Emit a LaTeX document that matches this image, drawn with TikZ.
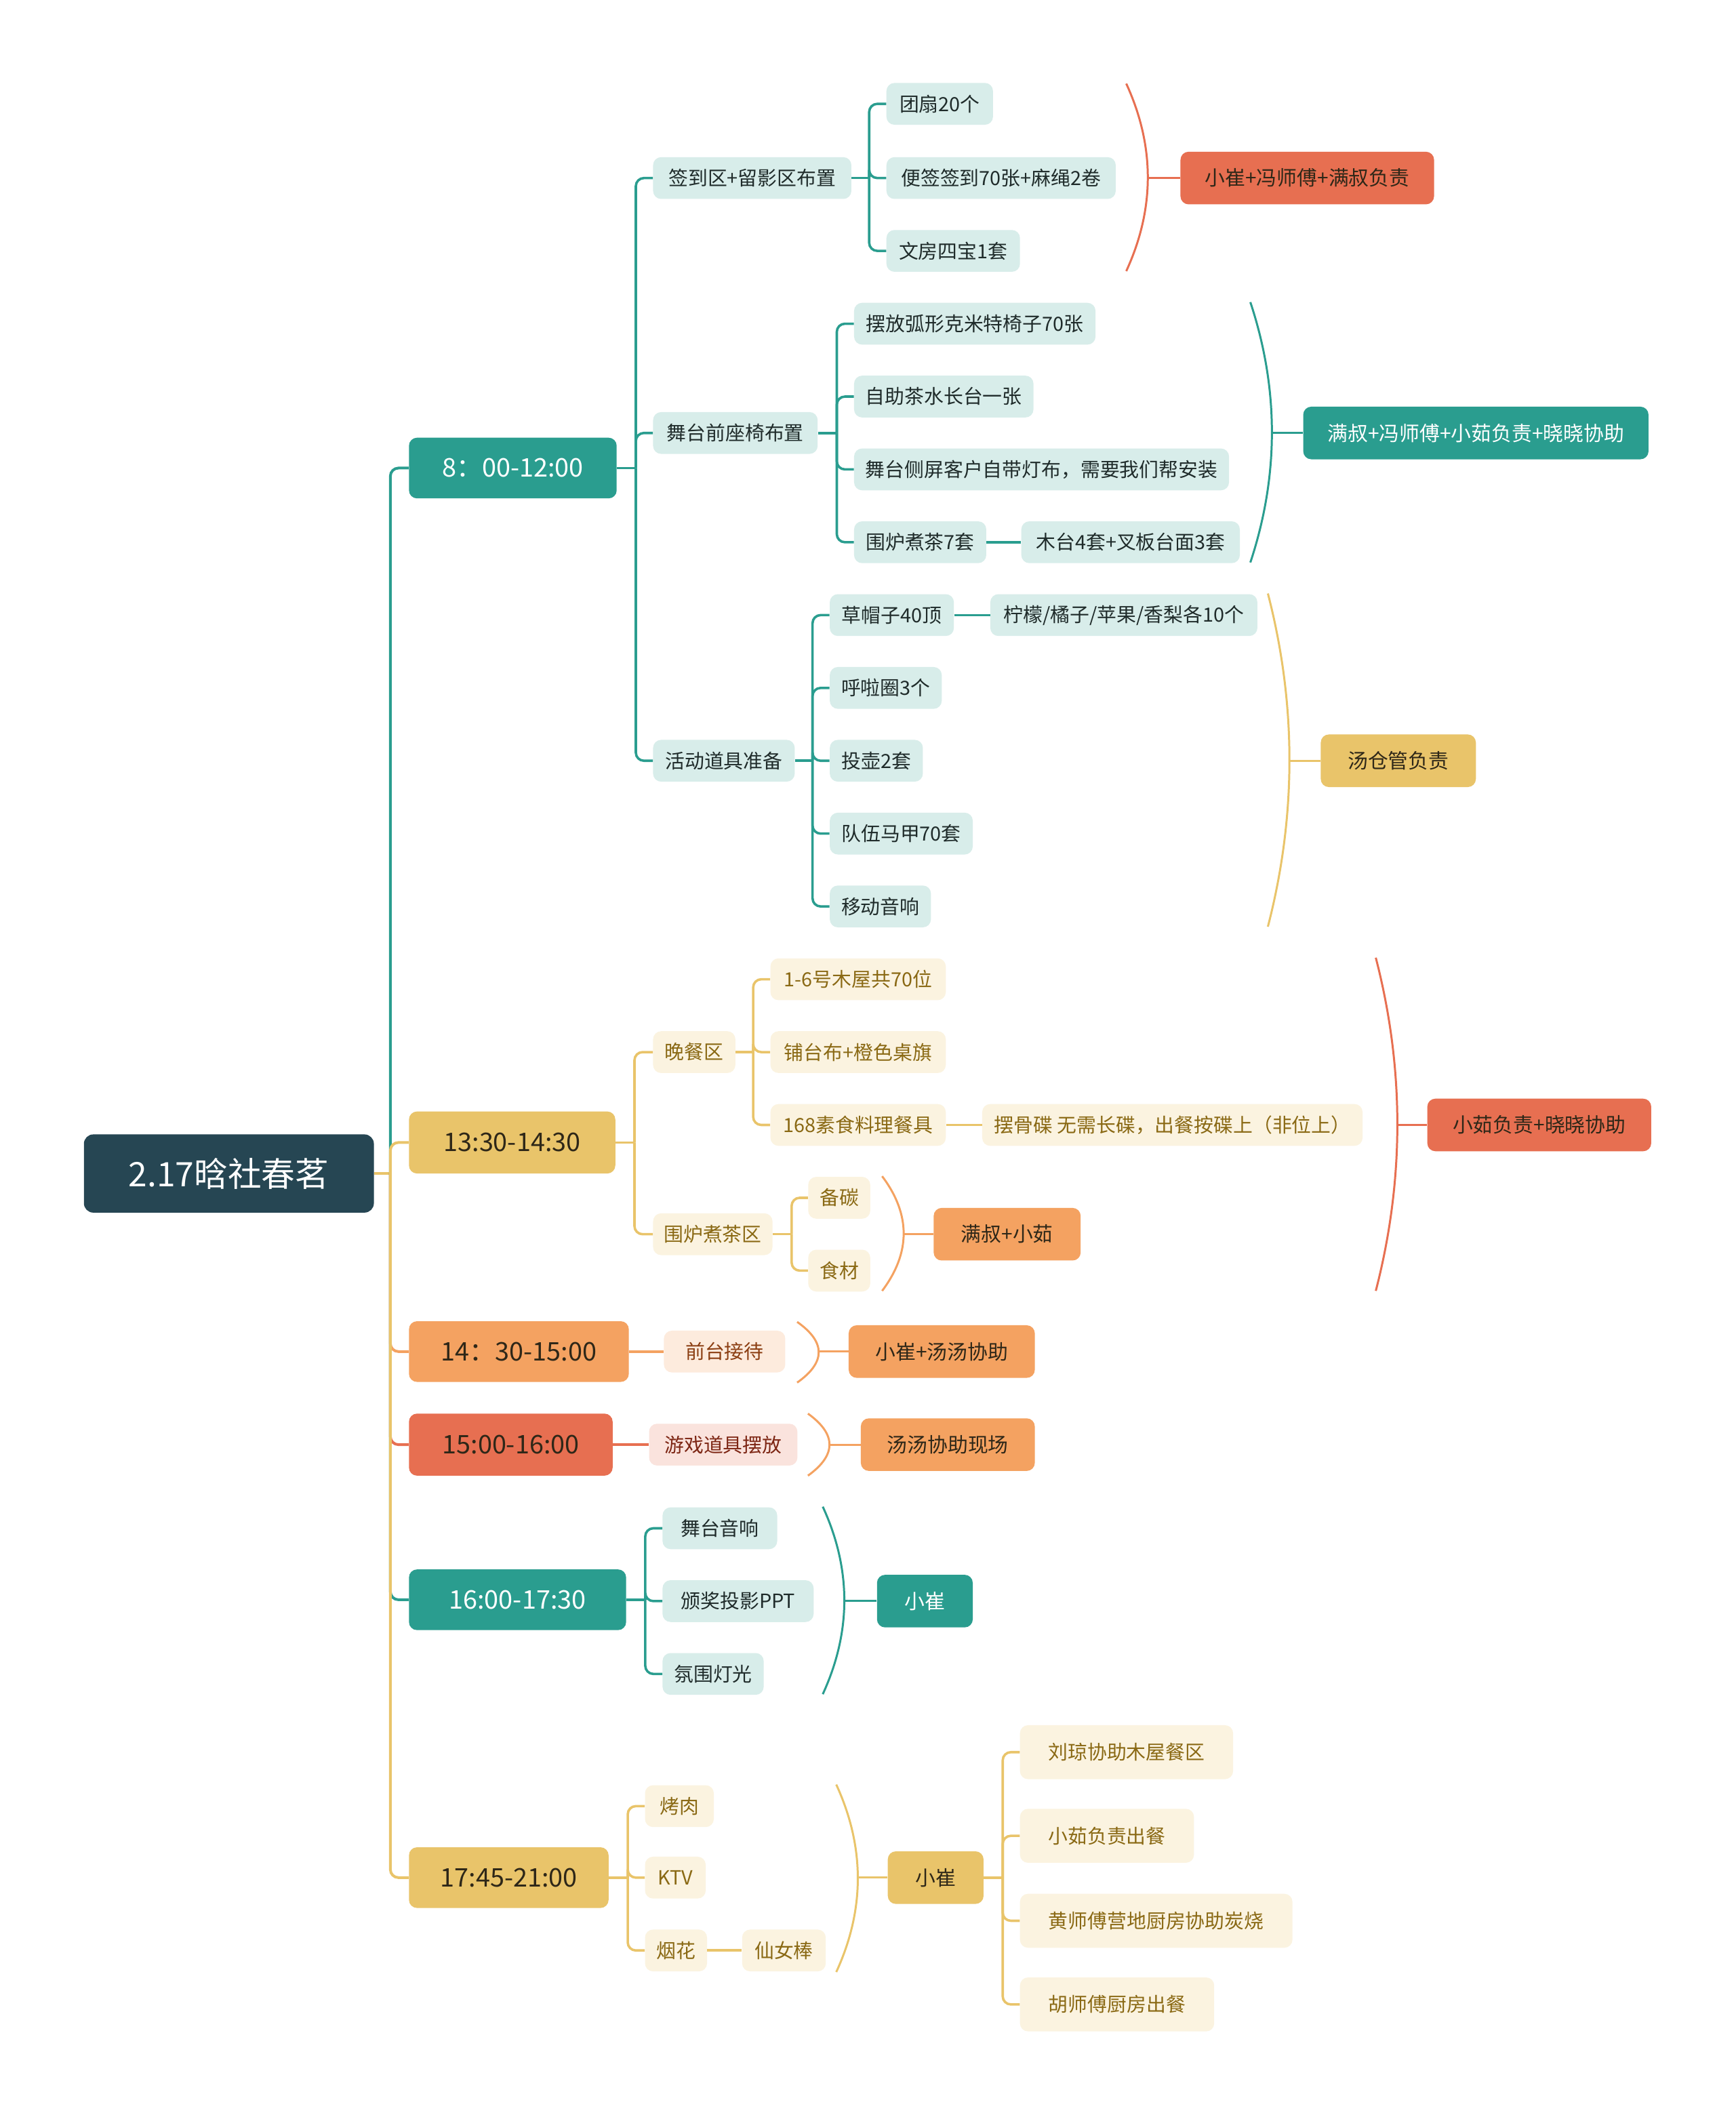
\documentclass[tikz,border=0pt]{standalone}
\usepackage{fontspec}
\setmainfont{Noto Sans CJK SC}
\definecolor{cdark}{HTML}{264653}
\definecolor{cteal}{HTML}{2A9D8F}
\definecolor{cyel}{HTML}{E9C46A}
\definecolor{corg}{HTML}{F4A261}
\definecolor{cred}{HTML}{E76F51}
\definecolor{clteal}{HTML}{D8EDEA}
\definecolor{clyel}{HTML}{FBF3E0}
\definecolor{clorg}{HTML}{FDEBDD}
\definecolor{clred}{HTML}{FAE3DD}
\definecolor{cbrown}{HTML}{8A6914}
\definecolor{corgtxt}{HTML}{8B3E12}
\definecolor{credtxt}{HTML}{7D2614}
\definecolor{cdtxt}{HTML}{2E2718}
\definecolor{ctealtxt}{HTML}{1F2B2A}
\newcommand{\mmstub}[3]{\draw[#1] (#2.east) -- ++(#3,0);}
\newcommand{\mmbr}[4]{\draw[#1,rounded corners=6pt] (#2.east) ++(#3,0) |- (#4.west);}
\newcommand{\mmlink}[3]{\draw[#1] (#2.east) -- (#3.west);}
\newcommand{\mmbrace}[5]{%
  \draw[#1,brc] (#2,#3) .. controls ({#2+21.3},{#3+(#4-#3)/3}) and ({#2+21.3},{#4-(#4-#3)/3}) .. (#2,#4);
  \coordinate (bm) at ({#2+16},{(#3+#4)/2});
  \draw[#1,brc] (bm |- #5.west) -- (#5.west);}
\begin{document}
\begin{tikzpicture}[x=1pt,y=-1pt,
  box/.style={rounded corners=6pt,inner xsep=8pt,inner ysep=0pt,anchor=west,
    minimum height=31pt,font=\fontsize{14.5}{17}\selectfont},
  rootbox/.style={box,fill=cdark,text=white,minimum height=58pt,rounded corners=7pt,
    font=\fontsize{25}{30}\selectfont},
  topbox/.style={box,minimum height=45pt,font=\fontsize{19}{23}\selectfont},
  tteal/.style={topbox,fill=cteal,text=white},
  tyel/.style={topbox,fill=cyel,text=cdtxt},
  torg/.style={topbox,fill=corg,text=cdtxt},
  tred/.style={topbox,fill=cred,text=cdtxt},
  lteal/.style={box,fill=clteal,text=ctealtxt},
  lyel/.style={box,fill=clyel,text=cbrown},
  lorg/.style={box,fill=clorg,text=corgtxt},
  lred/.style={box,fill=clred,text=credtxt},
  sumbox/.style={box,minimum height=39pt,font=\fontsize{15}{18}\selectfont},
  steal/.style={sumbox,fill=cteal,text=white},
  syel/.style={sumbox,fill=cyel,text=cdtxt},
  sorg/.style={sumbox,fill=corg,text=cdtxt},
  sred/.style={sumbox,fill=cred,text=cdtxt},
  main/.style={line width=2pt},
  sub/.style={line width=1.8pt},
  brc/.style={line width=1.5pt},
]
\useasboundingbox (0,0) rectangle (1287,1568);
\fill[white] (0,0) rectangle (1287,1568);

% ---------- nodes ----------
\node[rootbox,minimum width=215pt] (root) at (62,870) {2.17晗社春茗};

\node[tteal,minimum width=154pt] (t1) at (303,347) {8：00-12:00};
\node[tyel,minimum width=153pt,minimum height=46pt] (t2) at (303,847) {13:30-14:30};
\node[torg,minimum width=163pt] (t3) at (303,1002) {14：30-15:00};
\node[tred,minimum width=151pt,minimum height=46pt] (t4) at (303,1071) {15:00-16:00};
\node[tteal,minimum width=161pt] (t5) at (303,1186) {16:00-17:30};
\node[tyel,minimum width=148pt] (t6) at (303,1392) {17:45-21:00};

% 8:00 subtree
\node[lteal,minimum width=147pt] (a1) at (484,132) {签到区+留影区布置};
\node[lteal,minimum width=122pt] (a2) at (484,321) {舞台前座椅布置};
\node[lteal,minimum width=105pt] (a3) at (484,564) {活动道具准备};

\node[lteal,minimum width=79pt] (a11) at (657,77) {团扇20个};
\node[lteal,minimum width=170pt] (a12) at (657,132) {便签签到70张+麻绳2卷};
\node[lteal,minimum width=99pt] (a13) at (657,186) {文房四宝1套};
\node[sred,minimum width=188pt] (s1) at (875,132) {小崔+冯师傅+满叔负责};

\node[lteal,minimum width=179pt] (a21) at (633,240) {摆放弧形克米特椅子70张};
\node[lteal,minimum width=133pt] (a22) at (633,294) {自助茶水长台一张};
\node[lteal,minimum width=278pt] (a23) at (633,348) {舞台侧屏客户自带灯布，需要我们帮安装};
\node[lteal,minimum width=98pt] (a24) at (633,402) {围炉煮茶7套};
\node[lteal,minimum width=162pt] (a25) at (757,402) {木台4套+叉板台面3套};
\node[steal,minimum width=256pt] (s2) at (966,321) {满叔+冯师傅+小茹负责+晓晓协助};

\node[lteal,minimum width=92pt] (a31) at (615,456) {草帽子40顶};
\node[lteal,minimum width=198pt] (a32) at (734,456) {柠檬/橘子/苹果/香梨各10个};
\node[lteal,minimum width=83pt] (a33) at (615,510) {呼啦圈3个};
\node[lteal,minimum width=69pt] (a34) at (615,564) {投壶2套};
\node[lteal,minimum width=106pt] (a35) at (615,618) {队伍马甲70套};
\node[lteal,minimum width=75pt] (a36) at (615,672) {移动音响};
\node[syel,minimum width=115pt] (s3) at (979,564) {汤仓管负责};

% 13:30 subtree
\node[lyel,minimum width=61pt] (b1) at (484,780) {晚餐区};
\node[lyel,minimum width=88pt] (b2) at (484,915) {围炉煮茶区};
\node[lyel,minimum width=130pt] (b11) at (571,726) {1-6号木屋共70位};
\node[lyel,minimum width=130pt] (b12) at (571,780) {铺台布+橙色桌旗};
\node[lyel,minimum width=130pt] (b13) at (571,834) {168素食料理餐具};
\node[lyel,minimum width=282pt] (b14) at (728,834) {摆骨碟 无需长碟，出餐按碟上（非位上）};
\node[sred,minimum width=166pt] (s4) at (1058,834) {小茹负责+晓晓协助};
\node[lyel,minimum width=46pt] (b21) at (599,888) {备碳};
\node[lyel,minimum width=46pt] (b22) at (599,942) {食材};
\node[sorg,minimum width=109pt] (s5) at (692,915) {满叔+小茹};

% 14:30
\node[lorg,minimum width=90pt] (c1) at (492,1002) {前台接待};
\node[sorg,minimum width=138pt] (s6) at (629,1002) {小崔+汤汤协助};

% 15:00
\node[lred,minimum width=110pt] (d1) at (481,1071) {游戏道具摆放};
\node[sorg,minimum width=129pt] (s7) at (638,1071) {汤汤协助现场};

% 16:00
\node[lteal,minimum width=85pt] (e1) at (491,1133) {舞台音响};
\node[lteal,minimum width=112pt] (e2) at (491,1187) {颁奖投影PPT};
\node[lteal,minimum width=75pt] (e3) at (491,1241) {氛围灯光};
\node[steal,minimum width=71pt] (s8) at (650,1187) {小崔};

% 17:45
\node[lyel,minimum width=51pt] (f1) at (478,1339) {烤肉};
\node[lyel,minimum width=45pt] (f2) at (478,1392) {KTV};
\node[lyel,minimum width=46pt] (f3) at (478,1446) {烟花};
\node[lyel,minimum width=62pt] (f4) at (550,1446) {仙女棒};
\node[syel,minimum width=71pt] (s9) at (658,1392) {小崔};
\node[lyel,minimum width=158pt,minimum height=40pt] (g1) at (756,1299) {刘琼协助木屋餐区};
\node[lyel,minimum width=129pt,minimum height=40pt] (g2) at (756,1361) {小茹负责出餐};
\node[lyel,minimum width=202pt,minimum height=40pt] (g3) at (756,1424) {黄师傅营地厨房协助炭烧};
\node[lyel,minimum width=144pt,minimum height=40pt] (g4) at (756,1486) {胡师傅厨房出餐};

% ---------- connectors ----------
% root level
\mmstub{cyel,main}{root}{12}
\mmbr{cteal,main}{root}{12}{t1}
\mmbr{cyel,main}{root}{12}{t2}
\mmbr{corg,main}{root}{12}{t3}
\mmbr{cred,main}{root}{12}{t4}
\mmbr{cteal,main}{root}{12}{t5}
\mmbr{cyel,main}{root}{12}{t6}

% 8:00
\mmstub{cteal,sub}{t1}{14}
\mmbr{cteal,sub}{t1}{14}{a1}
\mmbr{cteal,sub}{t1}{14}{a2}
\mmbr{cteal,sub}{t1}{14}{a3}
\mmstub{cteal,sub}{a1}{13}
\mmbr{cteal,sub}{a1}{13}{a11}
\mmbr{cteal,sub}{a1}{13}{a12}
\mmbr{cteal,sub}{a1}{13}{a13}
\mmstub{cteal,sub}{a2}{14}
\mmbr{cteal,sub}{a2}{14}{a21}
\mmbr{cteal,sub}{a2}{14}{a22}
\mmbr{cteal,sub}{a2}{14}{a23}
\mmbr{cteal,sub}{a2}{14}{a24}
\mmlink{cteal,sub}{a24}{a25}
\mmstub{cteal,sub}{a3}{13}
\mmbr{cteal,sub}{a3}{13}{a31}
\mmbr{cteal,sub}{a3}{13}{a33}
\mmbr{cteal,sub}{a3}{13}{a34}
\mmbr{cteal,sub}{a3}{13}{a35}
\mmbr{cteal,sub}{a3}{13}{a36}
\mmlink{cteal,sub}{a31}{a32}
\mmbrace{cred}{835}{62}{201}{s1}
\mmbrace{cteal}{927}{224}{417}{s2}
\mmbrace{cyel}{940}{440}{687}{s3}

% 13:30
\mmstub{cyel,sub}{t2}{14}
\mmbr{cyel,sub}{t2}{14}{b1}
\mmbr{cyel,sub}{t2}{14}{b2}
\mmstub{cyel,sub}{b1}{13}
\mmbr{cyel,sub}{b1}{13}{b11}
\mmbr{cyel,sub}{b1}{13}{b12}
\mmbr{cyel,sub}{b1}{13}{b13}
\mmlink{cyel,sub}{b13}{b14}
\mmstub{cyel,sub}{b2}{14}
\mmbr{cyel,sub}{b2}{14}{b21}
\mmbr{cyel,sub}{b2}{14}{b22}
\mmbrace{cred}{1020}{710}{957}{s4}
\mmbrace{corg}{654}{872}{957}{s5}

% 14:30 / 15:00
\mmlink{corg,sub}{t3}{c1}
\mmbrace{corg}{591}{980}{1025}{s6}
\mmlink{cred,sub}{t4}{d1}
\mmbrace{corg}{599}{1048}{1094}{s7}

% 16:00
\mmstub{cteal,sub}{t5}{14}
\mmbr{cteal,sub}{t5}{14}{e1}
\mmbr{cteal,sub}{t5}{14}{e2}
\mmbr{cteal,sub}{t5}{14}{e3}
\mmbrace{cteal}{610}{1117}{1256}{s8}

% 17:45
\mmstub{cyel,sub}{t6}{14}
\mmbr{cyel,sub}{t6}{14}{f1}
\mmbr{cyel,sub}{t6}{14}{f2}
\mmbr{cyel,sub}{t6}{14}{f3}
\mmlink{cyel,sub}{f3}{f4}
\mmbrace{cyel}{620}{1323}{1462}{s9}
\mmstub{cyel,sub}{s9}{14}
\mmbr{cyel,sub}{s9}{14}{g1}
\mmbr{cyel,sub}{s9}{14}{g2}
\mmbr{cyel,sub}{s9}{14}{g3}
\mmbr{cyel,sub}{s9}{14}{g4}
\end{tikzpicture}
\end{document}
